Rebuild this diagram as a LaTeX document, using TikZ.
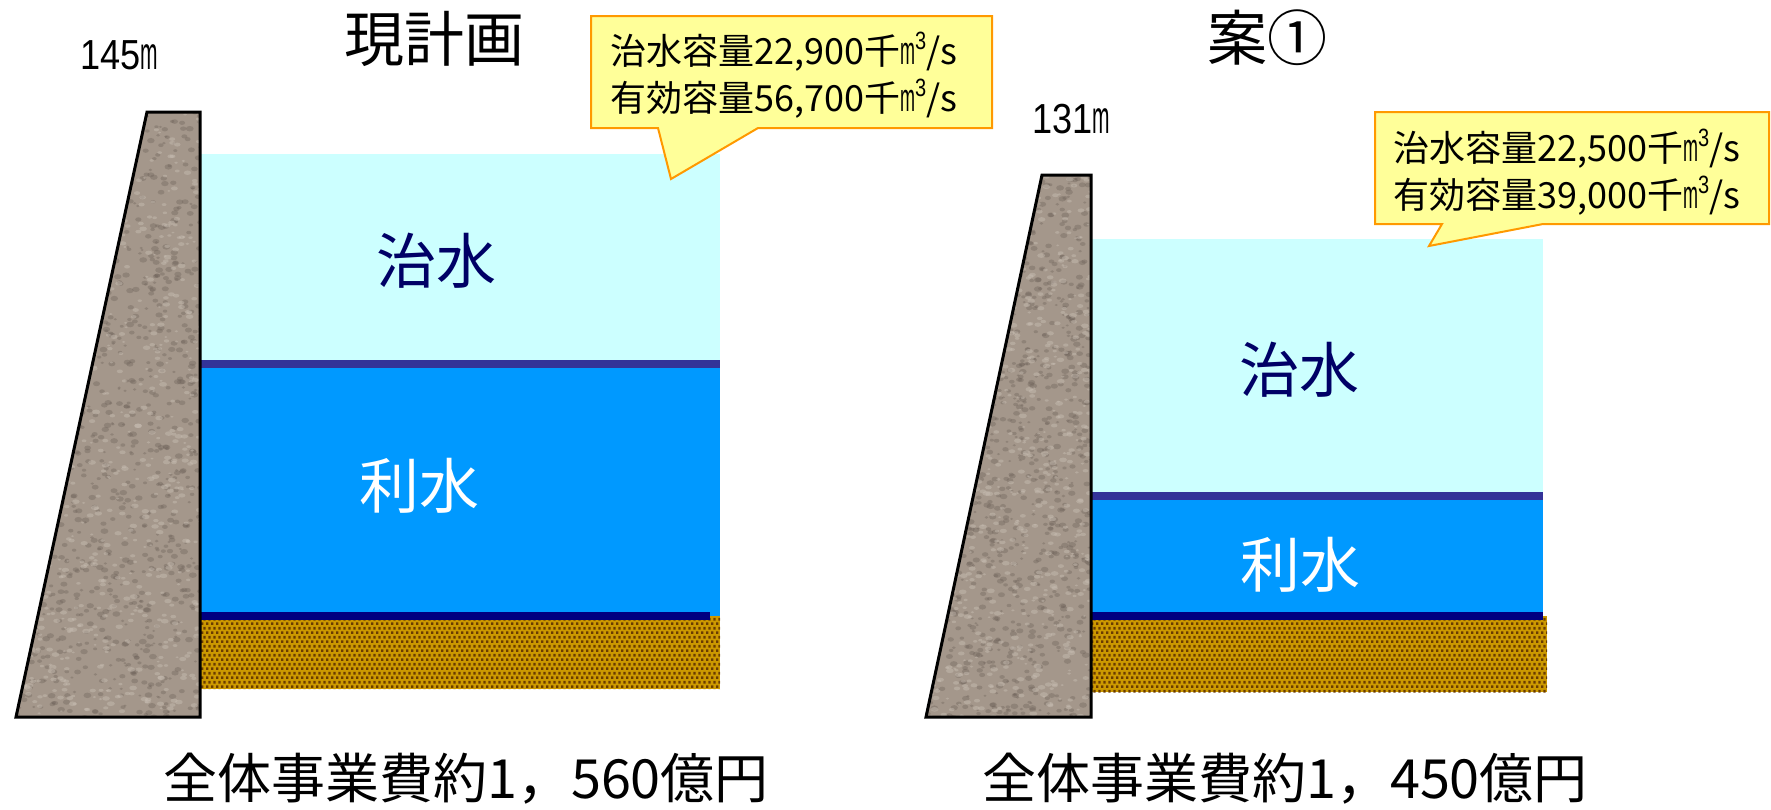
\documentclass[tikz,border=0pt]{standalone}
\usepackage{fontspec}
\setmainfont{Noto Sans CJK JP}
\newfontfamily\latinnarrow{Liberation Sans}
\usetikzlibrary{patterns}

\definecolor{floodcap}{HTML}{CCFFFF}
\definecolor{bandline}{HTML}{333399}
\definecolor{usewater}{HTML}{0099FF}
\definecolor{bedline}{HTML}{000080}
\definecolor{sediment}{HTML}{CC9900}
\definecolor{sedimentdot}{HTML}{6A3C00}
\definecolor{damstone}{HTML}{A4978B}
\definecolor{damdark}{HTML}{6A5E56}
\definecolor{damlight}{HTML}{C9BFB4}
\definecolor{calloutfill}{HTML}{FFFF99}
\definecolor{calloutedge}{HTML}{FF9900}
\definecolor{labelnavy}{HTML}{000066}

% staggered dot lattice for the sediment layer
\pgfdeclarepatternformonly{soildots}{\pgfpointorigin}{\pgfqpoint{5.3pt}{9.4pt}}{\pgfqpoint{5.3pt}{9.4pt}}{%
  \pgfpathrectangle{\pgfqpoint{0pt}{0pt}}{\pgfqpoint{2.8pt}{2.8pt}}%
  \pgfpathrectangle{\pgfqpoint{2.65pt}{4.7pt}}{\pgfqpoint{2.6pt}{2.8pt}}%
  \pgfusepath{fill}}

\tikzset{
  damedge/.style={draw=black, line width=3pt, line join=miter},
  callout/.style={fill=calloutfill, draw=calloutedge, line width=2pt, line join=miter},
  calltext/.style={font=\fontsize{36}{47}\selectfont, align=left, anchor=west, inner sep=0pt},
  titletext/.style={font=\fontsize{60}{66}\selectfont, inner sep=0pt},
  zonetext/.style={font=\fontsize{60}{66}\selectfont, inner sep=0pt},
  costtext/.style={font=\fontsize{54}{60}\selectfont, inner sep=0pt},
  leveltext/.style={font=\latinnarrow\fontsize{42}{46}\selectfont, inner sep=0pt},
}

% narrow "m" used for metres and cubic metres
\newcommand\narrowm{\scalebox{0.5}[1.1]{\latinnarrow m}}
\newcommand\cubicm{\narrowm\raisebox{0.4em}{\latinnarrow\fontsize{25}{25}\selectfont\scalebox{0.8}[1]{3}}}

% granite-like speckle inside a dam outline
\newcommand\damspeckle[4]{% xmin, xmax, ymin, ymax
  \fill[damstone] (#1,#3) rectangle (#2,#4);
  \foreach \k in {1,...,1100}{
    \pgfmathsetmacro\px{#1+(#2-#1)*rnd}
    \pgfmathsetmacro\py{#3+(#4-#3)*rnd}
    \pgfmathsetmacro\rr{1.5+2.5*rnd}
    \fill[damdark, opacity=0.35] (\px,\py) ellipse[x radius=\rr pt, y radius=0.7*\rr pt];
  }
  \foreach \k in {1,...,800}{
    \pgfmathsetmacro\px{#1+(#2-#1)*rnd}
    \pgfmathsetmacro\py{#3+(#4-#3)*rnd}
    \pgfmathsetmacro\rr{1.5+2.5*rnd}
    \fill[damlight, opacity=0.45] (\px,\py) ellipse[x radius=\rr pt, y radius=0.6*\rr pt];
  }
}

\begin{document}
\begin{tikzpicture}[x=1pt, y=-1pt]
\pgfmathsetseed{4711}
\useasboundingbox (0,0) rectangle (1771,809);
\clip (0,0) rectangle (1771,809);

% ---------------- current plan ----------------
% reservoir layers
\fill[sediment] (200,616) rectangle (720,689);
\fill[pattern=soildots, pattern color=sedimentdot] (200,616) rectangle (720,689);
\fill[floodcap] (200,154) rectangle (720,360);
\fill[bandline] (200,360) rectangle (720,368);
\fill[usewater] (200,368) rectangle (720,616);
\fill[bedline] (200,612) rectangle (709.5,619.5);

% dam body
\begin{scope}
  \clip (147,112) -- (200,112) -- (200,717) -- (16,717) -- cycle;
  \damspeckle{10}{205}{105}{722}
\end{scope}
\draw[damedge] (147,112) -- (200,112) -- (200,717) -- (16,717) -- cycle;

% labels
\node[leveltext] (crestA) at (119,55) {\scalebox{0.86}[1]{145}\narrowm};
\node[titletext] (titleA) at (434,39) {現計画};
\node[zonetext, text=labelnavy] (floodA) at (436,261) {治水};
\node[zonetext, text=white] (useA) at (419,486) {利水};
\node[costtext] (costA) at (466,779) {全体事業費約1，560億円};

% capacity callout
\draw[callout] (591,16) -- (992,16) -- (992,128) -- (758,128) -- (671,179)
  -- (658,128) -- (591,128) -- cycle;
\node[calltext] (capA) at (610,75) {治水容量22,900千\cubicm/s\\有効容量56,700千\cubicm/s};

% ---------------- alternative 1 ----------------
\fill[sediment] (1091,616) rectangle (1547,692);
\fill[pattern=soildots, pattern color=sedimentdot] (1091,616) rectangle (1547,692);
\fill[floodcap] (1091,239) rectangle (1543,492);
\fill[bandline] (1091,492) rectangle (1543,500);
\fill[usewater] (1091,500) rectangle (1543,612);
\fill[bedline] (1091,612) rectangle (1543,620);

\begin{scope}
  \clip (1042,175) -- (1091,175) -- (1091,717) -- (926,717) -- cycle;
  \damspeckle{920}{1096}{170}{722}
\end{scope}
\draw[damedge] (1042,175) -- (1091,175) -- (1091,717) -- (926,717) -- cycle;

\node[leveltext] (crestB) at (1071,119) {\scalebox{0.86}[1]{131}\narrowm};
\node[titletext] (titleB) at (1267,38) {案①};
\node[zonetext, text=labelnavy] (floodB) at (1299,370) {治水};
\node[zonetext, text=white] (useB) at (1300,565) {利水};
\node[costtext] (costB) at (1285,779) {全体事業費約1，450億円};

\draw[callout] (1375,112) -- (1769,112) -- (1769,224) -- (1543,224) -- (1429,246)
  -- (1442,224) -- (1375,224) -- cycle;
\node[calltext] (capB) at (1393,172) {治水容量22,500千\cubicm/s\\有効容量39,000千\cubicm/s};
\end{tikzpicture}
\end{document}
